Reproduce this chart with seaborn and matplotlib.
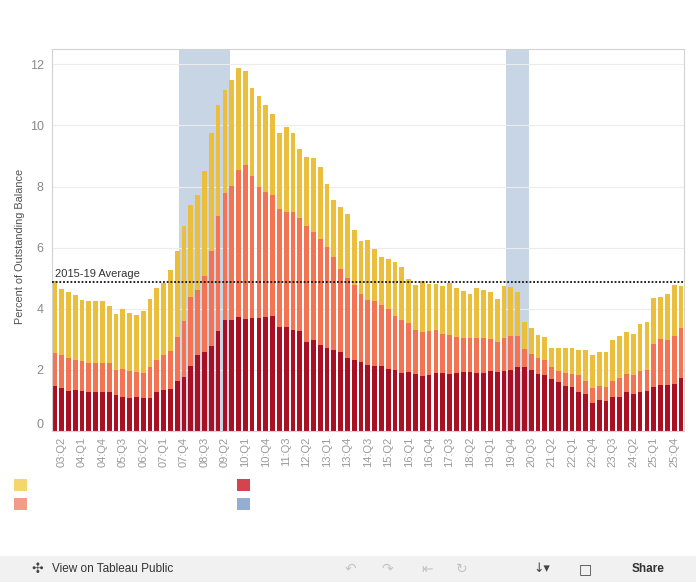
import matplotlib
matplotlib.use("Agg")
import matplotlib.pyplot as plt
from matplotlib.patches import Patch, Rectangle
from matplotlib.transforms import blended_transform_factory
import numpy as np
import pandas as pd
import seaborn as sns

# quarters 03:Q1 .. 26:Q1
QUARTERS = [f"{y % 100:02d}:Q{q}" for y in range(2003, 2027) for q in range(1, 5)][:93]
TICK_LABELS = QUARTERS[1::3]

# stacked levels (top of each band)
TOTAL = [
    4.92, 4.64, 4.56, 4.46, 4.28, 4.24, 4.26, 4.24, 4.09, 3.83,
    4.00, 3.85, 3.78, 3.93, 4.31, 4.67, 4.85, 5.27, 5.89, 6.71,
    7.41, 7.72, 8.50, 9.75, 10.67, 11.15, 11.48, 11.87, 11.78, 11.24,
    10.97, 10.67, 10.38, 9.75, 9.95, 9.75, 9.22, 8.98, 8.92, 8.63,
    8.09, 7.56, 7.34, 7.10, 6.58, 6.23, 6.25, 5.97, 5.70, 5.64,
    5.54, 5.37, 4.98, 4.79, 4.92, 4.82, 4.81, 4.75, 4.85, 4.69,
    4.57, 4.48, 4.69, 4.63, 4.54, 4.33, 4.75, 4.72, 4.54, 3.57,
    3.36, 3.14, 3.06, 2.70, 2.70, 2.70, 2.70, 2.66, 2.66, 2.48,
    2.59, 2.59, 2.97, 3.11, 3.25, 3.17, 3.50, 3.57, 4.34, 4.39,
    4.48, 4.79, 4.75,
]
MID = [
    2.54, 2.48, 2.38, 2.33, 2.30, 2.21, 2.24, 2.24, 2.21, 2.00,
    2.02, 1.96, 1.93, 1.89, 2.08, 2.33, 2.49, 2.62, 3.06, 3.61,
    4.39, 4.63, 5.08, 5.90, 7.05, 7.80, 8.02, 8.55, 8.71, 8.36,
    7.98, 7.83, 7.73, 7.25, 7.16, 7.16, 6.97, 6.71, 6.52, 6.28,
    6.03, 5.68, 5.31, 5.01, 4.77, 4.48, 4.30, 4.26, 4.12, 3.98,
    3.76, 3.63, 3.53, 3.30, 3.24, 3.27, 3.32, 3.17, 3.15, 3.08,
    3.05, 3.03, 3.05, 3.05, 3.01, 2.91, 3.03, 3.11, 3.10, 2.69,
    2.51, 2.38, 2.33, 2.08, 1.97, 1.90, 1.86, 1.83, 1.63, 1.41,
    1.48, 1.45, 1.63, 1.73, 1.87, 1.84, 1.97, 2.01, 2.84, 3.01,
    2.97, 3.11, 3.37,
]
LOW = [
    1.48, 1.41, 1.32, 1.34, 1.32, 1.29, 1.29, 1.29, 1.29, 1.17,
    1.11, 1.09, 1.11, 1.08, 1.08, 1.26, 1.34, 1.38, 1.63, 1.77,
    2.12, 2.49, 2.57, 2.79, 3.28, 3.63, 3.63, 3.72, 3.67, 3.69,
    3.69, 3.72, 3.77, 3.41, 3.39, 3.30, 3.26, 2.92, 2.99, 2.82,
    2.72, 2.66, 2.57, 2.38, 2.33, 2.26, 2.17, 2.13, 2.13, 2.02,
    1.99, 1.91, 1.93, 1.87, 1.80, 1.84, 1.90, 1.90, 1.87, 1.90,
    1.92, 1.92, 1.90, 1.90, 1.96, 1.92, 1.96, 1.99, 2.08, 2.08,
    1.99, 1.87, 1.84, 1.71, 1.60, 1.48, 1.45, 1.28, 1.20, 0.92,
    1.02, 0.98, 1.11, 1.11, 1.26, 1.22, 1.28, 1.31, 1.45, 1.51,
    1.51, 1.53, 1.75,
]

RECESSIONS = [("07:Q4", "09:Q2"), ("19:Q4", "20:Q2")]
AVG_PERIOD = ("15:Q1", "19:Q4")
AVG_LABEL = "2015-19 Average"
Y_LABEL = "Percent of Outstanding Balance"
Y_TICKS = [0, 2, 4, 6, 8, 10, 12]

YELLOW = "#ebbf3b"
ORANGE = "#f47352"
RED = "#ab0f24"
SHADE = "#c8d5e4"
LEGEND_COLORS = ["#f4d56e", "#f29b89", "#d5434f", "#93aed0"]


def main():
    sns.set_theme(style="white")
    plt.rcParams["font.family"] = ["Liberation Sans", "DejaVu Sans"]

    df = pd.DataFrame({"quarter": QUARTERS, "total": TOTAL, "mid": MID, "low": LOW})

    fig = plt.figure(figsize=(6.96, 5.82), dpi=100)
    ax = fig.add_axes([52 / 696, 1 - 431 / 582, 632 / 696, 382 / 582])

    for col, color in [("total", YELLOW), ("mid", ORANGE), ("low", RED)]:
        sns.barplot(data=df, x="quarter", y=col, order=QUARTERS, color=color,
                    saturation=1, width=0.7, linewidth=0, errorbar=None, ax=ax)

    # shading runs a little past the bar slots, as in the tableau view
    for start, end in RECESSIONS:
        ax.axvspan(QUARTERS.index(start) - 0.75, QUARTERS.index(end) + 0.75,
                   color=SHADE, lw=0, zorder=0.3)

    i0, i1 = QUARTERS.index(AVG_PERIOD[0]), QUARTERS.index(AVG_PERIOD[1])
    avg = float(np.mean(TOTAL[i0:i1 + 1]))
    ax.axhline(avg, color="#111111", lw=1.3, linestyle=(0, (1, 1.05)), zorder=5)
    trans = blended_transform_factory(ax.transAxes, ax.transData)
    ax.text(0.005, avg + 0.1, AVG_LABEL, transform=trans, fontsize=8,
            color="#333333", va="bottom", ha="left", zorder=6)

    ax.set_xlim(-0.4, len(QUARTERS) - 0.55)
    ax.set_ylim(0, 12.5)
    ax.set_yticks(Y_TICKS)
    ax.set_yticklabels([str(t) for t in Y_TICKS])
    ax.get_yticklabels()[0].set_verticalalignment("bottom")
    ax.set_xticks([QUARTERS.index(t) for t in TICK_LABELS])
    ax.set_xticklabels(TICK_LABELS, rotation=90)
    ax.tick_params(axis="both", length=0)
    ax.tick_params(axis="y", labelsize=9, labelcolor="#8a8a8a", pad=6)
    ax.tick_params(axis="x", labelsize=8, labelcolor="#9a9a9a", pad=4)

    ax.set_axisbelow(True)
    ax.yaxis.grid(True, color="#ececec", lw=0.8)
    ax.xaxis.grid(False)
    for spine in ax.spines.values():
        spine.set_color("#d2d2d2")
        spine.set_linewidth(0.8)

    ax.set_xlabel("")
    ax.set_ylabel(Y_LABEL, fontsize=7.8, color="#505050")
    ax.yaxis.set_label_coords(-0.043, 0.484)

    handles = [Patch(facecolor=c, edgecolor="none") for c in LEGEND_COLORS]
    fig.legend(handles, [""] * 4, ncol=2, loc="upper left",
               bbox_to_anchor=(14 / 696, 1 - 479 / 582), frameon=False,
               fontsize=9.4, handlelength=1.0, handleheight=1.0,
               handletextpad=0, borderpad=0, borderaxespad=0,
               labelspacing=0.45, columnspacing=16.1)

    # tableau toolbar strip
    fig.patches.append(Rectangle((0, 0), 1, 26 / 582, transform=fig.transFigure,
                                 facecolor="#f1f1f1", edgecolor="none", zorder=0))
    ty = 13 / 582
    fig.text(52 / 696, ty, "View on Tableau Public", fontsize=8.5, color="#333333",
             va="center", ha="left")
    fig.text(37 / 696, ty, "✣", fontsize=10, color="#444444", va="center", ha="center",
             family=["DejaVu Sans"])
    for x, glyph in [(350, "↶"), (387, "↷"), (427, "⇤"), (462, "↻")]:
        fig.text(x / 696, ty, glyph, fontsize=10, color="#c4c4c4", va="center",
                 ha="center", family=["DejaVu Sans"])
    fig.text(542 / 696, ty, "↓▾", fontsize=9, color="#444444", va="center",
             ha="center", family=["DejaVu Sans"])
    fig.text(585 / 696, ty, "□", fontsize=10, color="#444444", va="center",
             ha="center", family=["DejaVu Sans"])
    fig.text(648 / 696, ty, "Share", fontsize=8.5, color="#333333", va="center",
             ha="center", fontweight="bold")

    fig.savefig("out.png", dpi=100)
    plt.close(fig)


if __name__ == "__main__":
    main()
